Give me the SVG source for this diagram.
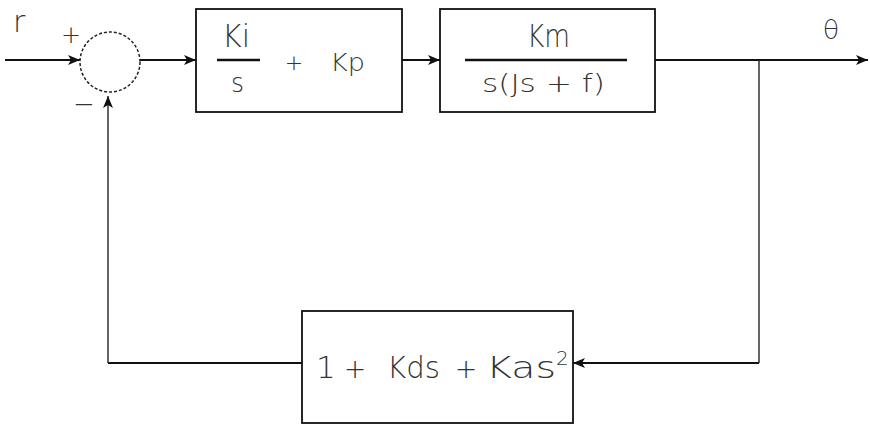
<svg xmlns="http://www.w3.org/2000/svg" width="870" height="426" viewBox="0 0 870 426">
<style>
  .bg { fill: #ffffff; }
  .box { fill: none; stroke: #111; stroke-width: 1.8; }
  .wire { fill: none; stroke: #111; stroke-width: 2; }
  .vwire { fill: none; stroke: #222; stroke-width: 1.4; }
  .bar { stroke: #111; stroke-width: 2.4; }
  .t { font-family: "DejaVu Sans", "Liberation Sans", sans-serif; font-weight: 200; fill: #333; }
</style>
<defs>
  <marker id="arr" viewBox="0 0 12 10" refX="12" refY="5" markerWidth="12" markerHeight="10" markerUnits="userSpaceOnUse" orient="auto">
    <path d="M0,0 L12,5 L0,10 L3,5 z" fill="#111"/>
  </marker>
</defs>
<rect class="bg" x="0" y="0" width="870" height="426"/>

<g id="connectors">
  <line class="wire" x1="5" y1="60" x2="80" y2="60" marker-end="url(#arr)"/>
  <line class="wire" x1="140" y1="60" x2="196" y2="60" marker-end="url(#arr)"/>
  <line class="wire" x1="402" y1="60" x2="440" y2="60" marker-end="url(#arr)"/>
  <line class="wire" x1="655" y1="60" x2="868" y2="60" marker-end="url(#arr)"/>
  <polyline class="vwire" points="759,60 759,363"/>
  <line class="wire" x1="759" y1="363" x2="573" y2="363" marker-end="url(#arr)"/>
  <line class="wire" x1="302" y1="363" x2="108" y2="363"/>
  <line class="vwire" x1="108" y1="363" x2="108" y2="96" marker-end="url(#arr)"/>
</g>

<g id="input-label">
  <text class="t" x="13" y="32" font-size="30">r</text>
</g>

<g id="output-label">
  <text class="t" x="831" y="39" font-size="27" text-anchor="middle">θ</text>
</g>

<g id="summing-junction">
  <circle cx="110" cy="62" r="30" fill="none" stroke="#222" stroke-width="1.5" stroke-dasharray="3 2"/>
  <text class="t" x="71" y="43" font-size="24" text-anchor="middle">+</text>
  <text class="t" x="84" y="113" font-size="26" text-anchor="middle">−</text>
</g>

<g id="controller">
  <rect class="box" x="196" y="9" width="206" height="103"/>
  <text class="t" x="222" y="47" font-size="32" textLength="28" lengthAdjust="spacingAndGlyphs">Ki</text>
  <line class="bar" x1="217" y1="60" x2="260" y2="60"/>
  <text class="t" x="231" y="92" font-size="26" textLength="13" lengthAdjust="spacingAndGlyphs">s</text>
  <text class="t" x="294" y="70" font-size="22" text-anchor="middle">+</text>
  <text class="t" x="330" y="71" font-size="24" textLength="35" lengthAdjust="spacingAndGlyphs">Kp</text>
</g>

<g id="plant">
  <rect class="box" x="440" y="9" width="215" height="103"/>
  <text class="t" x="527" y="47" font-size="32" textLength="43" lengthAdjust="spacingAndGlyphs">Km</text>
  <line class="bar" x1="465" y1="60" x2="627" y2="60"/>
  <text class="t" x="482" y="92" font-size="24" textLength="123" lengthAdjust="spacingAndGlyphs">s(Js + f)</text>
</g>

<g id="feedback">
  <rect class="box" x="302" y="311" width="271" height="112"/>
  <text class="t" x="316" y="378" font-size="31">1</text>
  <text class="t" x="355" y="378" font-size="27" text-anchor="middle">+</text>
  <text class="t" x="387" y="378" font-size="31" textLength="53" lengthAdjust="spacingAndGlyphs">Kds</text>
  <text class="t" x="466" y="378" font-size="27" text-anchor="middle">+</text>
  <text class="t" x="486" y="378" font-size="31" textLength="70" lengthAdjust="spacingAndGlyphs">Kas</text>
  <text class="t" x="556" y="365" font-size="20">2</text>
</g>
</svg>
